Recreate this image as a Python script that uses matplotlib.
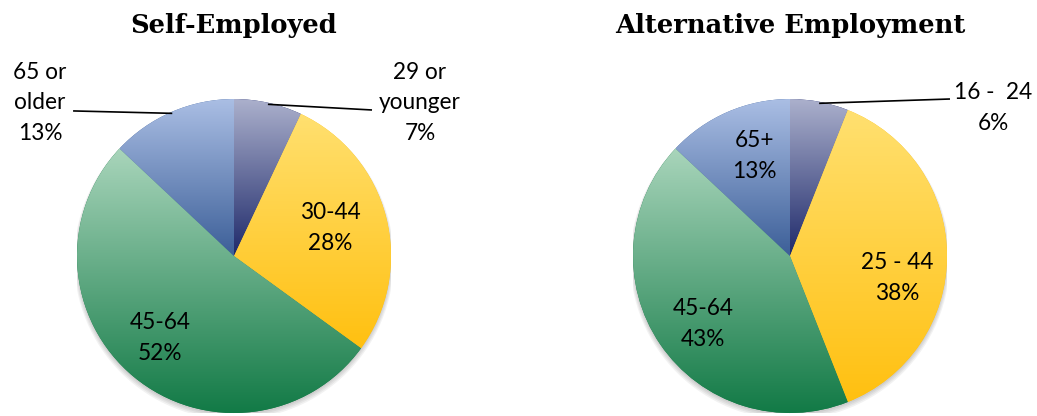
import numpy as np
import matplotlib
matplotlib.use("Agg")
import matplotlib.pyplot as plt
from matplotlib.colors import to_rgb
from matplotlib.patches import Circle

# ---- data ----
titles = ["Self-Employed", "Alternative Employment"]
left_labels = ["29 or\nyounger", "30-44", "45-64", "65 or\nolder"]
left_values = [7, 28, 52, 13]
right_labels = ["16 -  24", "25 - 44", "45-64", "65+"]
right_values = [6, 38, 43, 13]

# gradient colours (top, bottom) per slice order
grad_colors = [("#ABB0CC", "#1E296A"),
               ("#FFE070", "#FFC010"),
               ("#A9D5BB", "#127A46"),
               ("#AABEE4", "#3C5F98")]

FIG_W, FIG_H = 1037, 416
R_PX = 157
CY = 256
centers_px = [234, 790]

fig = plt.figure(figsize=(FIG_W / 100, FIG_H / 100), dpi=100)
fig.patch.set_facecolor("white")

label_font = "Lato"
title_font = "DejaVu Serif"

# label positions (axes data units, radius = 1)
left_pos = [(1.185, 0.975), (0.611, 0.178), (-0.471, -0.522), (-1.236, 0.975)]
right_pos = [(1.293, 0.943), (0.682, -0.140), (-0.554, -0.433), (-0.229, 0.637)]
# leader line ends (None = label inside)
left_lead = [(0.879, 0.930), None, None, (-1.025, 0.924)]
right_lead = [(1.019, 1.0), None, None, None]

datasets = [(left_labels, left_values, left_pos, left_lead),
            (right_labels, right_values, right_pos, right_lead)]


def gradient_img(top, bottom, n=256):
    t = np.linspace(0, 1, n)[:, None]
    c0 = np.array(to_rgb(bottom))
    c1 = np.array(to_rgb(top))
    img = c0[None, :] * (1 - t) + c1[None, :] * t
    return img[:, None, :]


for i, (labels, values, pos, lead) in enumerate(datasets):
    cx = centers_px[i]
    ax = fig.add_axes([(cx - R_PX) / FIG_W, (FIG_H - CY - R_PX) / FIG_H,
                       2 * R_PX / FIG_W, 2 * R_PX / FIG_H])
    ax.set_axis_off()

    # soft shadow
    for k, a in enumerate([0.05, 0.05, 0.05, 0.05]):
        ax.add_patch(Circle((0, -0.012 - 0.004 * k), 1.0 + 0.006 * k,
                            facecolor="black", alpha=a, lw=0, zorder=0.5))

    wedges, _ = ax.pie(values, startangle=90, counterclock=False, radius=1,
                       wedgeprops=dict(linewidth=0))
    for w, (top, bot) in zip(wedges, grad_colors):
        w.set_facecolor(to_rgb(bot))
        w.set_zorder(1)
        ext = w.get_path().get_extents()
        im = ax.imshow(gradient_img(top, bot), origin="lower",
                       extent=[ext.x0, ext.x1, ext.y0, ext.y1],
                       interpolation="bilinear", aspect="auto", zorder=2)
        im.set_clip_path(w)

    for w, lab, v, p, ld in zip(wedges, labels, values, pos, lead):
        txt = f"{lab}\n{v}%"
        ax.text(p[0], p[1], txt, ha="center", va="center", fontsize=16.3,
                family=label_font, color="black", linespacing=1.55,
                zorder=5, clip_on=False)
        if ld is not None:
            mid = np.deg2rad((w.theta1 + w.theta2) / 2)
            x0, y0 = np.cos(mid) * 0.99, np.sin(mid) * 0.99
            ax.plot([x0, ld[0]], [y0, ld[1]], color="black", lw=1.2,
                    zorder=5, clip_on=False, solid_capstyle="butt")

    ax.text(0, (CY - 33) / R_PX, titles[i], ha="center", va="baseline",
            fontsize=18.5, fontweight="bold", family=title_font,
            color="black", clip_on=False)

    ax.set_xlim(-1, 1)
    ax.set_ylim(-1, 1)
    ax.set_aspect("equal")

fig.savefig("out.png", dpi=100, facecolor="white")
